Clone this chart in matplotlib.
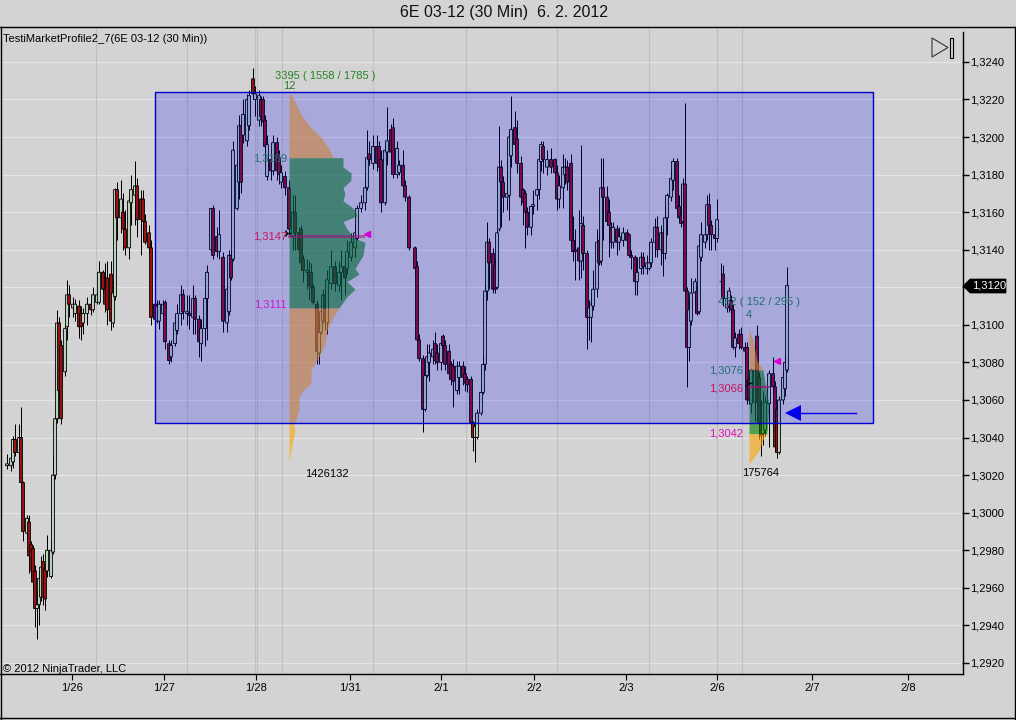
import matplotlib
matplotlib.use("Agg")
import matplotlib.pyplot as plt
from matplotlib.lines import Line2D
from matplotlib.patches import Polygon, Rectangle
from matplotlib.ticker import FuncFormatter
import numpy as np

plt.rcParams['font.family'] = ['Liberation Sans', 'DejaVu Sans']

# 30 min bars, slot = bar number on the 46 bars per day grid, prices in 1/10000
slots = [0, 2, 3, 4, 6, 7, 8, 10, 11, 12, 13, 14, 15, 16, 17, 18, 19, 20, 22, 23,
         24, 25, 26, 27, 29, 30, 31, 33, 34, 36, 37, 38, 40, 42, 43, 45, 46, 48, 49, 50,
         52, 53, 54, 55, 57, 58, 59, 61, 62, 64, 65, 67, 68, 69, 71, 72, 74, 75, 76, 78,
         79, 81, 82, 84, 85, 87, 88, 90, 91, 93, 94, 96, 97, 99, 100, 102, 103, 105, 106, 108,
         110, 111, 112, 113, 115, 116, 117, 118, 120, 121, 123, 124, 126, 127, 128, 129, 130, 132, 133, 135,
         136, 137, 139, 141, 143, 144, 146, 147, 148, 150, 151, 152, 153, 155, 156, 157, 158, 159, 160, 162,
         164, 166, 167, 169, 170, 172, 174, 175, 177, 179, 180, 181, 183, 185, 186, 187, 189, 190, 192, 193,
         195, 196, 198, 199, 201, 204, 205, 206, 208, 209, 210, 211, 213, 214, 215, 217, 218, 219, 221, 222,
         223, 225, 226, 228, 229, 230, 232, 233, 234, 235, 237, 238, 239, 240, 241, 243, 244, 245, 246, 247,
         248, 250, 251, 252, 254, 255, 257, 258, 259, 260, 262, 263, 265, 266, 267, 268, 270, 272, 274, 275,
         276, 278, 279, 280, 282, 283, 284, 286, 287, 288, 290, 291, 292, 293, 295, 296, 297, 298, 300, 301,
         302, 303, 305, 306, 308, 310, 311, 312, 314, 315, 317, 318, 320, 321, 322, 324, 325, 327, 328, 329,
         330, 332, 333, 335, 336, 337, 338, 339, 340, 341, 342, 344, 345, 346, 347, 349, 350, 351, 352, 354,
         355, 357, 358, 360, 361, 362, 363, 364, 366, 367, 369, 370, 371, 372, 374, 375, 376, 377, 378, 379,
         381, 383, 384, 385, 386, 388, 389, 390]

opens = [13025, 13025, 13027, 13039, 13032, 13040, 13016, 12989, 12995, 12983, 12981, 12969, 12949, 12951, 12955, 12974, 12970, 12969, 12966, 12979,
         13020, 13050, 13101, 13089, 13075, 13099, 13116, 13109, 13106, 13110, 13106, 13101, 13106, 13111, 13108, 13112, 13112, 13128, 13119, 13125,
         13127, 13101, 13115, 13172, 13157, 13160, 13151, 13141, 13165, 13169, 13174, 13167, 13167, 13155, 13149, 13141, 13111, 13102, 13102, 13106,
         13112, 13090, 13083, 13090, 13097, 13106, 13116, 13106, 13106, 13104, 13114, 13103, 13090, 13098, 13114, 13140, 13162, 13147, 13139, 13136,
         13101, 13107, 13137, 13135, 13162, 13176, 13206, 13201, 13198, 13206, 13231, 13220, 13209, 13220, 13220, 13209, 13179, 13188, 13182, 13197,
         13189, 13176, 13179, 13173, 13147, 13160, 13149, 13151, 13135, 13128, 13128, 13128, 13120, 13111, 13085, 13096, 13102, 13116, 13101, 13122,
         13131, 13121, 13128, 13131, 13130, 13136, 13141, 13146, 13162, 13165, 13173, 13191, 13186, 13195, 13195, 13188, 13165, 13192, 13204, 13205,
         13180, 13181, 13185, 13174, 13168, 13141, 13131, 13092, 13082, 13055, 13073, 13080, 13083, 13090, 13085, 13080, 13094, 13089, 13086, 13079,
         13078, 13065, 13072, 13078, 13074, 13071, 13071, 13048, 13040, 13040, 13053, 13064, 13079, 13118, 13144, 13138, 13131, 13120, 13151, 13184,
         13176, 13168, 13169, 13190, 13205, 13199, 13186, 13172, 13170, 13160, 13152, 13163, 13169, 13172, 13187, 13195, 13184, 13188, 13188, 13181,
         13167, 13173, 13180, 13184, 13186, 13145, 13140, 13141, 13134, 13153, 13138, 13104, 13104, 13110, 13119, 13145, 13134, 13173, 13168, 13160,
         13152, 13144, 13151, 13144, 13145, 13149, 13148, 13137, 13136, 13123, 13130, 13136, 13130, 13130, 13133, 13144, 13152, 13140, 13149, 13138,
         13157, 13168, 13177, 13187, 13163, 13158, 13155, 13175, 13118, 13088, 13102, 13117, 13118, 13107, 13136, 13144, 13148, 13164, 13153, 13148,
         13146, 13123, 13127, 13109, 13110, 13113, 13108, 13088, 13095, 13095, 13088, 13088, 13071, 13058, 13059, 13094, 13072, 13048, 13042, 13044,
         13058, 13074, 13067, 13055, 13032, 13060, 13066, 13076]

closes = [13026, 13029, 13039, 13032, 13040, 13016, 12990, 12997, 12977, 12969, 12963, 12949, 12951, 12965, 12971, 12955, 12954, 12980, 12980, 13020,
          13050, 13101, 13065, 13050, 13098, 13116, 13111, 13111, 13111, 13099, 13099, 13106, 13111, 13108, 13116, 13116, 13128, 13119, 13111, 13108,
          13102, 13117, 13172, 13157, 13167, 13151, 13141, 13166, 13172, 13174, 13156, 13156, 13155, 13144, 13141, 13104, 13103, 13110, 13111, 13111,
          13091, 13081, 13089, 13101, 13106, 13116, 13107, 13107, 13105, 13114, 13103, 13091, 13098, 13114, 13128, 13162, 13137, 13139, 13148, 13102,
          13119, 13137, 13125, 13193, 13185, 13206, 13176, 13212, 13220, 13222, 13223, 13223, 13222, 13211, 13208, 13195, 13196, 13182, 13197, 13182,
          13180, 13181, 13173, 13151, 13160, 13149, 13140, 13133, 13129, 13129, 13121, 13120, 13112, 13086, 13096, 13107, 13116, 13102, 13124, 13131,
          13122, 13128, 13131, 13125, 13139, 13144, 13149, 13162, 13165, 13173, 13189, 13188, 13195, 13186, 13184, 13165, 13193, 13198, 13192, 13180,
          13194, 13185, 13174, 13168, 13141, 13130, 13092, 13082, 13055, 13073, 13083, 13085, 13087, 13081, 13080, 13090, 13089, 13079, 13074, 13071,
          13070, 13078, 13078, 13072, 13069, 13068, 13048, 13040, 13046, 13053, 13064, 13079, 13118, 13144, 13133, 13119, 13119, 13149, 13184, 13176,
          13168, 13170, 13200, 13204, 13196, 13186, 13168, 13165, 13160, 13152, 13163, 13164, 13172, 13188, 13196, 13188, 13188, 13184, 13181, 13167,
          13174, 13184, 13184, 13176, 13145, 13139, 13139, 13134, 13154, 13138, 13104, 13109, 13111, 13119, 13144, 13133, 13173, 13168, 13155, 13153,
          13144, 13152, 13144, 13147, 13149, 13145, 13137, 13136, 13123, 13128, 13136, 13131, 13133, 13133, 13144, 13152, 13140, 13149, 13138, 13157,
          13169, 13178, 13187, 13162, 13157, 13154, 13175, 13118, 13088, 13108, 13117, 13123, 13106, 13142, 13148, 13148, 13164, 13153, 13148, 13146,
          13156, 13123, 13114, 13114, 13118, 13108, 13088, 13093, 13090, 13088, 13086, 13060, 13060, 13076, 13076, 13059, 13048, 13041, 13058, 13059,
          13074, 13067, 13035, 13032, 13060, 13072, 13080, 13121]

highs = [13031, 13032, 13041, 13047, 13047, 13056, 13017, 12999, 12999, 12985, 12983, 12972, 12959, 12969, 12977, 12978, 12972, 12988, 12985, 13030,
         13052, 13108, 13104, 13092, 13100, 13124, 13121, 13115, 13114, 13113, 13110, 13109, 13115, 13116, 13120, 13118, 13134, 13129, 13133, 13134,
         13134, 13124, 13173, 13176, 13177, 13170, 13161, 13169, 13180, 13187, 13178, 13172, 13172, 13159, 13153, 13145, 13113, 13113, 13113, 13113,
         13113, 13092, 13092, 13105, 13111, 13121, 13119, 13116, 13116, 13121, 13116, 13105, 13103, 13117, 13132, 13162, 13164, 13152, 13161, 13139,
         13121, 13140, 13140, 13198, 13188, 13212, 13209, 13220, 13223, 13225, 13237, 13227, 13225, 13222, 13222, 13212, 13201, 13193, 13201, 13200,
         13193, 13185, 13182, 13177, 13169, 13169, 13152, 13153, 13137, 13135, 13134, 13133, 13122, 13113, 13103, 13111, 13119, 13122, 13129, 13140,
         13134, 13134, 13140, 13137, 13145, 13149, 13153, 13164, 13169, 13177, 13204, 13198, 13201, 13201, 13198, 13193, 13196, 13216, 13207, 13210,
         13198, 13188, 13193, 13177, 13169, 13142, 13134, 13095, 13084, 13075, 13090, 13090, 13092, 13096, 13090, 13092, 13095, 13092, 13090, 13081,
         13082, 13081, 13081, 13081, 13078, 13073, 13073, 13049, 13047, 13055, 13065, 13084, 13122, 13155, 13146, 13141, 13135, 13151, 13206, 13188,
         13179, 13188, 13204, 13222, 13214, 13209, 13190, 13173, 13172, 13163, 13164, 13172, 13173, 13191, 13198, 13198, 13193, 13194, 13189, 13185,
         13180, 13191, 13189, 13188, 13191, 13158, 13151, 13161, 13196, 13158, 13140, 13113, 13117, 13129, 13151, 13149, 13189, 13189, 13174, 13167,
         13155, 13155, 13153, 13152, 13152, 13151, 13149, 13140, 13137, 13136, 13139, 13139, 13137, 13136, 13146, 13157, 13158, 13153, 13151, 13164,
         13170, 13183, 13189, 13189, 13169, 13175, 13178, 13218, 13120, 13113, 13125, 13125, 13120, 13146, 13155, 13152, 13169, 13170, 13156, 13152,
         13167, 13133, 13132, 13118, 13120, 13116, 13111, 13096, 13098, 13099, 13091, 13091, 13073, 13077, 13077, 13100, 13075, 13060, 13065, 13062,
         13076, 13083, 13070, 13060, 13062, 13075, 13084, 13131]

lows = [13023, 13022, 13024, 13030, 13028, 13013, 12985, 12986, 12968, 12966, 12959, 12939, 12933, 12940, 12953, 12951, 12948, 12966, 12965, 12978,
        13018, 13048, 13060, 13047, 13073, 13092, 13104, 13104, 13102, 13093, 13092, 13095, 13100, 13105, 13107, 13111, 13111, 13117, 13107, 13100,
        13097, 13099, 13113, 13145, 13149, 13140, 13137, 13135, 13153, 13153, 13147, 13137, 13145, 13143, 13138, 13100, 13096, 13101, 13098, 13105,
        13087, 13079, 13080, 13089, 13095, 13100, 13103, 13100, 13098, 13095, 13095, 13083, 13081, 13089, 13092, 13140, 13135, 13136, 13135, 13096,
        13096, 13105, 13124, 13134, 13161, 13167, 13170, 13197, 13195, 13204, 13220, 13211, 13206, 13206, 13204, 13191, 13177, 13177, 13180, 13177,
        13175, 13173, 13169, 13148, 13140, 13140, 13137, 13129, 13123, 13119, 13113, 13116, 13111, 13079, 13079, 13095, 13101, 13097, 13095, 13119,
        13118, 13118, 13113, 13116, 13127, 13134, 13136, 13145, 13160, 13161, 13172, 13185, 13183, 13182, 13181, 13160, 13164, 13185, 13185, 13178,
        13178, 13180, 13172, 13166, 13140, 13127, 13091, 13081, 13043, 13054, 13072, 13070, 13079, 13079, 13076, 13076, 13087, 13076, 13071, 13068,
        13056, 13063, 13063, 13068, 13065, 13064, 13046, 13033, 13027, 13039, 13052, 13063, 13076, 13113, 13119, 13117, 13117, 13119, 13150, 13152,
        13160, 13161, 13156, 13184, 13193, 13181, 13164, 13153, 13141, 13148, 13148, 13159, 13161, 13167, 13182, 13181, 13180, 13181, 13180, 13161,
        13162, 13162, 13175, 13172, 13142, 13134, 13124, 13124, 13125, 13129, 13087, 13092, 13091, 13108, 13115, 13132, 13132, 13145, 13153, 13136,
        13141, 13141, 13137, 13140, 13142, 13141, 13136, 13130, 13116, 13116, 13127, 13127, 13127, 13129, 13131, 13136, 13136, 13132, 13126, 13135,
        13148, 13166, 13172, 13159, 13155, 13152, 13153, 13116, 13067, 13081, 13100, 13107, 13105, 13106, 13134, 13141, 13145, 13140, 13140, 13140,
        13144, 13119, 13110, 13107, 13107, 13105, 13087, 13083, 13087, 13087, 13082, 13058, 13058, 13053, 13049, 13058, 13039, 13030, 13036, 13041,
        13035, 13063, 13033, 13029, 13031, 13058, 13062, 13075]

# market profile shapes, price level and profile width in bar slots
left_levels_high = [13223, 13212, 13205, 13200, 13194, 13189]
left_width_high = [1, 6, 11, 16, 20, 22]
left_levels_va = [13189, 13184, 13181, 13177, 13173, 13170, 13166, 13163, 13161, 13158, 13155, 13151, 13146,
                  13144, 13137, 13130, 13127, 13123, 13119, 13115, 13112, 13109]
left_width_va = [27, 27, 31, 31, 27, 28, 27, 31, 33, 34, 27, 29, 33, 38, 37, 33, 35, 29, 33, 29, 27, 25]
left_levels_low = [13109, 13104, 13097, 13090, 13083, 13076, 13069, 13065, 13062, 13055, 13048]
left_width_low = [25, 22, 19, 18, 15, 11, 11, 7, 5, 5, 3]
left_levels_tail = [13048, 13044, 13039, 13027]
left_width_tail = [2, 3, 2, 0]

right_levels_high = [13098, 13092, 13081, 13076]
right_width_high = [0, 2, 4, 7]
right_levels_va = [13076, 13063, 13058, 13042]
right_width_va = [7, 9, 10, 9]
right_levels_low = [13042, 13039, 13033, 13026]
right_width_low = [9, 7, 5, 0]

price_ticks = [13240, 13220, 13200, 13180, 13160, 13140, 13120, 13100,
               13080, 13060, 13040, 13020, 13000, 12980, 12960, 12940, 12920]
day_slots = [32.5, 78.5, 124.5, 171.5, 217, 263.5, 309.5, 355, 402.5, 450.5]
day_labels = ['1/26', '1/27', '1/28', '1/31', '2/1', '2/2', '2/3', '2/6', '2/7', '2/8']
session_lines = [44.5, 90, 124, 125, 137.5, 183, 229.5, 275, 321, 355, 367.5]
last_price = 13120

BG = '#d3d3d3'
W, H = 1016, 720


def px(x, y):
    # picture pixels to figure fraction, only for the window frame and icons
    return x / W, 1 - y / H


def frame_line(fig, x0, y0, x1, y1, color='black', lw=1.0):
    a, b = px(x0, y0), px(x1, y1)
    fig.add_artist(Line2D([a[0], b[0]], [a[1], b[1]], color=color, lw=lw))


def price_text(v, pos=None):
    # the last price sits in its black tag instead of the tick label
    if int(v) == last_price:
        return ''
    return f'{int(v) // 10000},{int(v) % 10000:04d}'


def draw_candles(ax):
    s = np.array(slots)
    o, c = np.array(opens), np.array(closes)
    ax.vlines(s, lows, highs, color='black', lw=0.72, zorder=2)
    colors = ['#c4dcc4' if cl >= op else '#a01414' for op, cl in zip(o, c)]
    bars = ax.bar(s, np.abs(c - o), bottom=np.minimum(o, c), width=1.4, color=colors,
                  edgecolor='black', linewidth=0.65, zorder=2.2)
    # no pixel snapping, snapped bodies come out a pixel too wide
    for b in bars:
        b.set_snap(False)


def draw_profile(ax, base, levels, widths, color):
    ax.fill_betweenx(levels, base, base + np.array(widths), color=color, alpha=0.6,
                     linewidth=0, zorder=3)


fig = plt.figure(figsize=(W / 100, H / 100), dpi=100, facecolor=BG)
ax = fig.add_axes([1 / W, 1 - 674 / H, 961 / W, 647 / H], facecolor=BG)
ax.set_xlim(-3, 477.5)
ax.set_ylim(12914.1, 13258.6)
for sp in ax.spines.values():
    sp.set_visible(False)

for p in price_ticks:
    ax.axhline(p, color='#e6e6e6', lw=0.8, zorder=1)
for s in session_lines:
    ax.axvline(s, color='#bfbfbf', lw=0.8, zorder=1)

draw_candles(ax)

draw_profile(ax, 141, left_levels_high, left_width_high, 'orange')
draw_profile(ax, 141, left_levels_va, left_width_va, 'green')
draw_profile(ax, 141, left_levels_low, left_width_low, 'orange')
draw_profile(ax, 141, left_levels_tail, left_width_tail, 'orange')
draw_profile(ax, 371, right_levels_high, right_width_high, 'orange')
draw_profile(ax, 371, right_levels_va, right_width_va, 'green')
draw_profile(ax, 371, right_levels_low, right_width_low, 'orange')

# point of control lines and arrows
ax.plot([141, 178], [13147.5, 13147.5], color='#d0105a', lw=2.2, alpha=0.55, zorder=3.2)
ax.plot([371, 381], [13067, 13067], color='#d0105a', lw=1.5, alpha=0.7, zorder=3.2)
ax.plot([180], [13148.5], marker='<', ms=4, color='#d400d4', zorder=4.5)
ax.plot([385], [13081], marker='<', ms=4, color='#d400d4', zorder=4.5)
ax.plot([140], [13149], marker='4', ms=6, color='black', zorder=4.5)
ax.plot([370.5], [13069], marker='4', ms=6, color='black', zorder=4.5)

labels_under = [(159, 13232.5, '3395 ( 1558 / 1785 )', '#248224', 'center'),
                (141, 13227, '12', '#248224', 'center'),
                (140, 13188.5, '1,3189', '#2e8a4a', 'right'),
                (376, 13112, '462 ( 152 / 295 )', '#2e8a4a', 'center'),
                (371, 13105, '4', '#2e8a4a', 'center'),
                (368, 13075.5, '1,3076', '#2e8a4a', 'right')]
for x, y, txt, col, ha in labels_under:
    ax.text(x, y, txt, color=col, ha=ha, va='center', fontsize=8, zorder=3.6)

labels_over = [(140, 13147, '1,3147', '#c8145a', 'right'),
               (140, 13111, '1,3111', '#cc18dc', 'right'),
               (368, 13066, '1,3066', '#c8145a', 'right'),
               (368, 13042, '1,3042', '#e010c0', 'right'),
               (149, 13020.5, '1426132', 'black', 'left'),
               (367.5, 13021, '175764', 'black', 'left')]
for x, y, txt, col, ha in labels_over:
    ax.text(x, y, txt, color=col, ha=ha, va='center', fontsize=8, zorder=5)

# blue drawing rectangle lies over bars and profile
ax.add_patch(Rectangle((74, 13048), 359, 176, facecolor=(0, 0, 1, 0.2), edgecolor='#0000cc',
                       lw=1.0, zorder=4))
ax.plot([424.5, 393], [13053, 13053], color='#0000ee', lw=1.0, zorder=4.5)
ax.plot([393], [13053], marker='<', ms=11, color='#0000ee', mew=0, zorder=4.5)

ax.yaxis.tick_right()
ax.set_yticks(price_ticks)
ax.yaxis.set_major_formatter(FuncFormatter(price_text))
ax.tick_params(axis='y', length=5, width=1, pad=0.5, labelsize=8, colors='black')
ax.set_xticks(day_slots)
ax.set_xticklabels(day_labels)
ax.tick_params(axis='x', length=4.5, width=0.8, pad=2, labelsize=8, colors='black')

# window frame
frame_line(fig, 0, 27, W, 27)
frame_line(fig, 0.5, 27, 0.5, H)
frame_line(fig, 0, 674, 963, 674)
frame_line(fig, 962.5, 32, 962.5, 674)
frame_line(fig, W - 1, 27, W - 1, H)
frame_line(fig, 0, H - 2, W, H - 2)

fig.text(*px(504, 13), '6E 03-12 (30 Min)  6. 2. 2012', ha='center', va='center', fontsize=11.5, color='#111111')
fig.text(*px(3, 39.5), 'TestiMarketProfile2_7(6E 03-12 (30 Min))', ha='left', va='center', fontsize=8)
fig.text(*px(3, 668.5), '\u00a9 2012 NinjaTrader, LLC', ha='left', va='center', fontsize=8)

# replay icon top right
fig.add_artist(Polygon([px(932, 38), px(932, 57), px(948, 47.5)], closed=True, fill=False,
                       edgecolor='#333333', lw=0.8, transform=fig.transFigure))
fig.add_artist(Polygon([px(949.5, 37.5), px(952.5, 37.5), px(952.5, 57.5), px(949.5, 57.5)], closed=True,
                       fill=False, edgecolor='black', lw=0.8, transform=fig.transFigure))

# last price tag on the axis
fig.add_artist(Polygon([px(963, 286), px(970, 279), px(1006, 279), px(1006, 293), px(970, 293)], closed=True,
                       facecolor='black', edgecolor='black', lw=0.5, transform=fig.transFigure))
fig.text(*px(972, 286), f'{last_price // 10000},{last_price % 10000:04d}', color='white',
         ha='left', va='center', fontsize=8, zorder=10)

fig.savefig('out.png', dpi=100, facecolor=BG)
